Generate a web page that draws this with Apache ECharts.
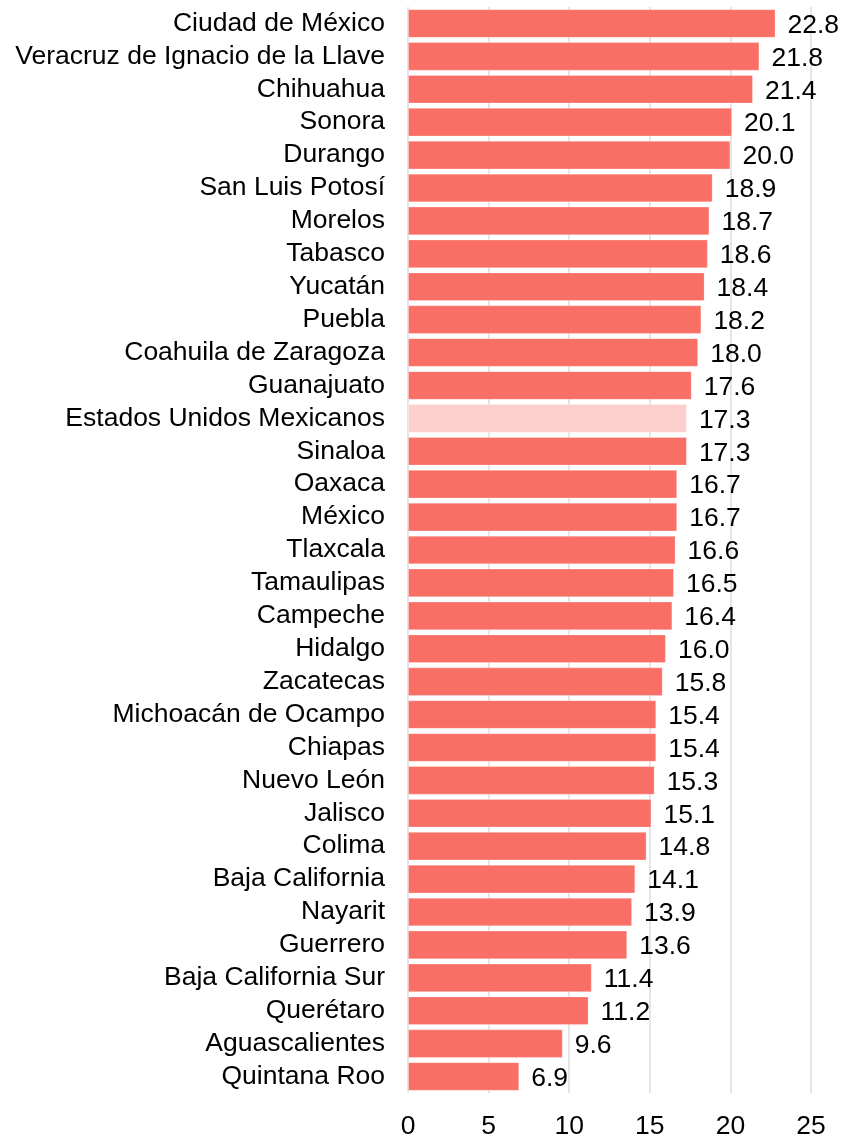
<!DOCTYPE html>
<html>
<head>
<meta charset="utf-8">
<script src="https://cdn.jsdelivr.net/npm/echarts@6/dist/echarts.min.js"></script>
<style>
  html, body { margin: 0; padding: 0; background: #fff; }
  #chart { width: 844px; height: 1137px; }
</style>
</head>
<body>
<div id="chart"></div>
<script>
const states = [
  'Ciudad de México', 'Veracruz de Ignacio de la Llave', 'Chihuahua', 'Sonora', 'Durango',
  'San Luis Potosí', 'Morelos', 'Tabasco', 'Yucatán', 'Puebla', 'Coahuila de Zaragoza',
  'Guanajuato', 'Estados Unidos Mexicanos', 'Sinaloa', 'Oaxaca', 'México', 'Tlaxcala',
  'Tamaulipas', 'Campeche', 'Hidalgo', 'Zacatecas', 'Michoacán de Ocampo', 'Chiapas',
  'Nuevo León', 'Jalisco', 'Colima', 'Baja California', 'Nayarit', 'Guerrero',
  'Baja California Sur', 'Querétaro', 'Aguascalientes', 'Quintana Roo'
]
const values = [
  22.8, 21.8, 21.4, 20.1, 20.0, 18.9, 18.7, 18.6, 18.4, 18.2, 18.0,
  17.6, 17.3, 17.3, 16.7, 16.7, 16.6, 16.5, 16.4, 16.0, 15.8, 15.4, 15.4,
  15.3, 15.1, 14.8, 14.1, 13.9, 13.6, 11.4, 11.2, 9.6, 6.9
]
const xTicks = [0, 5, 10, 15, 20, 25]
const highlight = 'Estados Unidos Mexicanos'

const chart = echarts.init(document.getElementById('chart'))
const font = 'Liberation Sans, Arial, sans-serif'

chart.setOption({
  animation: false,
  grid: {
    left: 408,
    right: 33,
    top: 7,
    bottom: 44,
    outerBoundsMode: 'none'
  },
  xAxis: {
    type: 'value',
    min: xTicks[0],
    max: xTicks[xTicks.length - 1],
    interval: 5,
    axisLine: { show: false },
    axisTick: { show: false },
    axisLabel: {
      color: '#000',
      fontSize: 26.5,
      fontFamily: font,
      margin: 20
    },
    splitLine: {
      show: true,
      lineStyle: { color: '#DDDDDD', width: 1.5 }
    }
  },
  yAxis: {
    type: 'category',
    inverse: true,
    data: states,
    axisLine: { show: false },
    axisTick: { show: false },
    axisLabel: {
      interval: 0,
      color: '#000',
      fontSize: 26.5,
      fontFamily: font,
      margin: 23
    }
  },
  series: [
    {
      type: 'bar',
      barCategoryGap: '13%',
      data: values.map((v, i) => ({
        value: v,
        itemStyle: {
          color: states[i] === highlight ? '#FCCFCC' : '#F96F66'
        }
      })),
      itemStyle: {
        borderColor: 'rgba(255,255,255,0.25)',
        borderWidth: 1
      },
      label: {
        show: true,
        position: 'right',
        distance: 12,
        offset: [0, 2],
        color: '#000',
        fontSize: 26.5,
        fontFamily: font,
        formatter: p => p.value.toFixed(1)
      }
    }
  ]
})
</script>
</body>
</html>
